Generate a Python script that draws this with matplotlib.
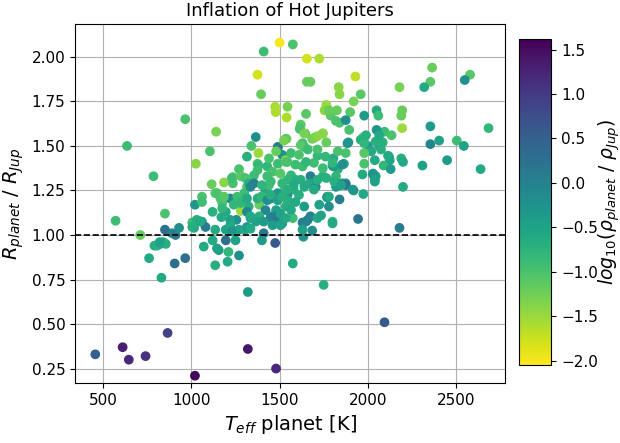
import numpy as np
import matplotlib
matplotlib.use("Agg")
import matplotlib.pyplot as plt

# (Teff [K], R/Rjup, log10 rho/rhoJup), by region

# sparse points, low Teff and dense small planets
sparse = [
    (455, 0.33, 0.5), (610, 0.37, 1.3), (645, 0.30, 1.2), (740, 0.32, 1.1),
    (865, 0.45, 0.9), (1020, 0.21, 1.6), (1320, 0.36, 1.4), (1480, 0.25, 1.2),
    (2095, 0.51, 0.6), (570, 1.08, -0.9), (635, 1.50, -0.9), (710, 1.00, -1.2),
    (760, 0.87, -0.6), (785, 1.33, -0.9), (790, 0.94, -0.7), (805, 0.94, -0.7),
    (825, 0.95, -0.6), (840, 0.96, -0.6), (855, 0.95, -0.7), (830, 0.76, -0.6),
    (850, 1.12, -1.0), (850, 1.03, 0.3), (890, 1.01, 0.0), (905, 0.84, 0.3),
    (910, 1.00, 0.1), (930, 1.04, -0.2), (965, 0.87, 0.3), (965, 1.65, -1.0),
    (1010, 1.06, -0.8), (1020, 1.17, -0.3), (1025, 1.40, -1.4), (1030, 1.08, -0.1),
    (1320, 0.68, -0.4), (1575, 0.84, -0.6), (1750, 0.72, -0.7), (2180, 1.04, 0.1),
    (820, 0.96, -0.5),
]

# hottest planets, right side
hot = [
    (2365, 1.94, -1.2), (2580, 1.90, -1.1), (2550, 1.87, -0.2), (2355, 1.86, -1.1),
    (2180, 1.83, -1.3), (2320, 1.83, -0.6), (2195, 1.70, -1.2), (2190, 1.67, -1.2),
    (2195, 1.60, -1.5), (2355, 1.61, -0.4), (2685, 1.60, -0.8), (2095, 1.58, -0.9),
    (2135, 1.56, -1.0), (2085, 1.52, -0.8), (2355, 1.51, 0.0), (2405, 1.53, -0.5),
    (2505, 1.53, -0.9), (2545, 1.50, -0.5), (2120, 1.44, -0.5), (2190, 1.43, -0.7),
    (2200, 1.41, -0.6), (2125, 1.42, -0.5), (2090, 1.39, -0.8), (2130, 1.37, -0.4),
    (2310, 1.39, -0.5), (2450, 1.42, -0.4), (2640, 1.37, -0.6), (2200, 1.27, -0.6),
]

# most inflated planets, upper part
inflated = [
    (1500, 2.08, -2.0), (1575, 2.07, -1.0), (1410, 2.03, -0.9), (1655, 1.99, -1.8),
    (1725, 1.99, -1.6), (1375, 1.90, -1.8), (1930, 1.89, -1.7), (1655, 1.86, -1.2),
    (1675, 1.86, -1.2), (1395, 1.79, -1.2), (1835, 1.83, -1.4), (1840, 1.79, -1.4),
    (1960, 1.79, -1.1), (1920, 1.75, -1.3), (1475, 1.72, -1.6), (1478, 1.69, -1.6),
    (1545, 1.72, -1.3), (1540, 1.66, -1.6), (1650, 1.68, -1.1), (1765, 1.73, -1.5),
    (1755, 1.70, -1.4), (1825, 1.70, -1.2), (1790, 1.67, -1.1), (1900, 1.69, -1.1),
    (1820, 1.64, -1.0), (1840, 1.63, -1.0), (1895, 1.59, -1.0), (1140, 1.58, -1.3),
    (1105, 1.47, -1.0), (1980, 1.67, -0.4), (2050, 1.70, -0.6), (2060, 1.67, -0.9),
    (1365, 1.55, -0.2), (1340, 1.50, -1.0), (1380, 1.46, -1.5), (1315, 1.44, -0.7),
    (1490, 1.49, -0.3), (1525, 1.44, -1.3), (1540, 1.54, -1.4), (1615, 1.60, -1.2),
    (1645, 1.57, -1.1), (1685, 1.54, -1.2), (1705, 1.55, -1.3), (1745, 1.57, -1.3),
    (1765, 1.52, -1.2), (1890, 1.52, -0.2), (1975, 1.55, -1.2), (2000, 1.50, -0.3),
    (2050, 1.59, -0.3), (1980, 1.40, -1.0), (2030, 1.34, -0.4), (2045, 1.33, -0.4),
    (2040, 1.30, -0.5), (2020, 1.47, -0.6), (2065, 1.50, -0.5), (2075, 1.52, -0.7),
    (1875, 1.46, -1.0), (1865, 1.40, -0.6), (1805, 1.43, -0.6), (1800, 1.39, -0.5),
    (1830, 1.37, -0.7), (1875, 1.29, -0.3), (1820, 1.33, -0.8), (1920, 1.25, -0.4),
    (1975, 1.23, -0.6), (1945, 1.09, 0.2), (1840, 1.20, 0.1), (1770, 1.21, -0.5),
    (1820, 1.27, -0.4), (1780, 1.70, -1.2), (1875, 1.645, -0.2), (1620, 1.62, -1.1),
    (1615, 1.595, -1.0), (1535, 1.54, -1.1), (1630, 1.515, -0.9), (1960, 1.535, -0.7),
]

# main cluster, 1000-2100 K
core = [
    (1005, 1.07, -0.9), (1040, 1.08, -0.4), (1015, 1.04, -0.6), (1060, 1.075, -0.5),
    (1080, 1.045, 0.1), (1120, 1.13, -0.7), (1115, 1.285, -1.2), (1135, 1.235, -1.1),
    (1185, 1.295, -1.4), (1165, 1.205, -1.0), (1175, 1.18, -1.0), (1195, 1.13, -0.6),
    (1170, 1.10, -0.6), (1220, 1.205, -0.1), (1235, 1.325, -1.1), (1235, 1.29, -1.0),
    (1270, 1.37, -1.0), (1280, 1.135, -1.5), (1240, 1.17, -0.8), (1255, 1.085, -0.2),
    (1230, 1.03, -0.3), (1270, 1.03, -0.5), (1305, 1.03, -0.6), (1195, 0.97, 0.3),
    (1250, 0.97, -0.5), (1070, 0.935, -0.6), (1120, 0.97, -0.6), (1155, 0.915, -0.4),
    (1135, 0.83, -0.7), (1210, 0.905, -0.8), (1205, 0.85, -0.6), (1270, 0.885, -0.2),
    (1315, 1.27, -1.1), (1300, 1.235, -0.9), (1325, 1.16, -0.7), (1335, 1.095, -0.4),
    (1315, 1.13, -0.1), (1355, 1.335, -0.9), (1375, 1.40, -1.0), (1385, 1.17, -1.2),
    (1395, 1.215, -1.0), (1430, 1.385, -0.8), (1430, 1.27, -0.3), (1420, 1.245, -0.6),
    (1450, 1.205, -0.2), (1420, 1.14, -0.1), (1450, 1.105, -0.2), (1470, 1.085, -0.2),
    (1410, 1.01, 0.2), (1480, 1.14, -0.5), (1490, 1.235, -0.3), (1490, 1.495, 0.1),
    (1515, 1.45, -0.3), (1535, 1.42, -1.5), (1525, 1.53, -1.3), (1515, 1.065, -0.3),
    (1475, 0.955, 0.6), (1565, 1.46, -0.9), (1565, 1.335, -0.8), (1590, 1.31, -0.7),
    (1545, 1.31, -0.8), (1580, 1.255, -0.7), (1610, 1.225, -0.7), (1545, 1.225, -0.2),
    (1545, 1.16, -0.5), (1575, 1.095, -0.9), (1640, 1.16, -0.4), (1630, 1.07, 0.1),
    (1660, 1.085, 0.1), (1675, 1.105, 0.0), (1635, 0.99, -0.3), (1685, 1.025, -0.2),
    (1715, 1.095, -0.6), (1630, 1.385, -0.9), (1640, 1.495, -0.9), (1675, 1.33, 0.1),
    (1670, 1.29, -0.6), (1705, 1.27, -0.2), (1715, 1.445, -0.8), (1745, 1.33, -0.7),
    (1760, 1.44, -0.8), (1770, 1.215, -0.2), (1780, 1.16, -0.2), (1800, 1.075, -0.8),
    (1805, 1.385, -0.4), (1855, 1.29, -0.2), (1875, 1.28, 0.2), (1830, 1.47, -1.0),
    (1885, 1.515, -0.3), (1915, 1.255, -0.3), (1980, 1.46, -1.1), (2030, 1.345, -0.3),
    (2040, 1.31, -0.5), (2040, 1.42, -0.6), (2115, 1.445, -0.6), (2045, 1.525, -0.7),
    (1440, 1.43, -1.0), (1490, 1.40, -0.9), (1535, 1.41, -1.1), (1480, 1.47, -1.2),
    (1380, 1.39, -0.8), (1375, 1.365, -0.9), (1460, 1.355, -1.0), (1430, 1.33, -0.9),
    (1450, 1.30, -0.9), (1440, 1.28, -0.9), (1505, 1.345, -1.1), (1515, 1.29, -0.8),
    (1535, 1.255, -0.8), (1230, 1.32, -0.9), (1280, 1.33, -1.1), (1305, 1.32, -1.0),
    (1325, 1.29, -0.7), (1335, 1.27, -0.1), (1355, 1.29, 0.0), (1400, 1.28, -0.8),
    (1145, 1.235, -1.0), (1185, 1.215, -1.1), (1260, 1.215, -0.9), (1280, 1.18, -0.8),
    (1315, 1.205, -0.6), (1375, 1.205, -0.7), (1400, 1.215, -0.8), (1430, 1.195, -0.2),
    (1450, 1.225, -0.7), (1490, 1.195, -0.5), (1515, 1.215, -0.7), (1545, 1.195, -0.7),
    (1060, 1.215, -1.0), (1060, 1.185, -0.9), (1175, 1.15, -0.8), (1220, 1.085, -0.5),
    (1335, 1.105, -0.6), (1385, 1.105, -0.7), (1450, 1.095, 0.0), (1480, 1.105, 0.1),
    (1505, 1.12, -0.5), (1535, 1.095, -0.6), (1535, 1.16, -0.7), (1030, 1.085, -0.7),
    (1050, 1.075, -0.6), (1005, 1.045, -0.7), (1135, 1.03, -0.6), (1195, 1.03, -0.5),
    (1220, 1.055, -0.6), (1315, 1.045, -0.4), (1365, 1.075, -0.5), (1410, 1.075, -0.4),
    (1460, 1.055, -0.4), (1505, 1.055, -0.5), (1230, 1.02, -0.3), (1335, 1.035, -0.6),
    (1145, 0.925, -0.5), (1400, 0.97, -0.4),
    (1640, 1.57, -1.3), (1695, 1.545, -1.3), (1745, 1.57, -1.4), (1715, 1.555, -1.4),
    (1620, 1.505, -1.1), (1610, 1.45, -1.0), (1660, 1.48, -0.9), (1715, 1.48, -1.0),
    (1800, 1.405, -0.8), (1855, 1.395, -0.2), (1745, 1.375, -0.9), (1695, 1.405, -0.9),
    (1650, 1.41, -0.8), (1590, 1.395, -0.9), (1545, 1.41, -1.0), (1715, 1.31, -0.7),
    (1765, 1.32, -0.7), (1810, 1.30, -0.7), (1850, 1.28, -0.5), (1620, 1.31, -0.7),
    (1580, 1.28, -0.6), (1640, 1.27, -0.6), (1695, 1.255, -0.6), (1780, 1.215, -0.6),
    (1725, 1.17, -0.5), (1735, 1.11, -0.5), (1650, 1.075, 0.0), (1800, 1.065, -0.6),
    (1630, 1.03, -0.5), (1970, 1.34, -0.6), (2075, 1.48, -0.7), (2065, 1.56, -0.6),
    (1980, 1.515, -0.8), (1990, 1.56, -0.7), (1545, 1.255, -0.7), (1590, 1.185, -0.6),
    (1565, 1.14, -0.6),
]

pts = np.array(sparse + hot + inflated + core)
teff, radius, logrho = pts[:, 0], pts[:, 1], pts[:, 2]

fig = plt.figure(figsize=(6.2, 4.43), dpi=100)
ax = fig.add_axes([0.121, 0.135, 0.694, 0.811])
cax = fig.add_axes([0.837, 0.176, 0.052, 0.736])

sc = ax.scatter(teff, radius, c=logrho, cmap='viridis_r', vmin=-2.05, vmax=1.62, s=36, zorder=3)
ax.axhline(1.0, color='black', ls='--', lw=1.2, zorder=4)

ax.set_xlim(340, 2780)
ax.set_ylim(0.168, 2.185)
ax.set_xticks([500, 1000, 1500, 2000, 2500])
ax.set_yticks([0.25, 0.5, 0.75, 1.0, 1.25, 1.5, 1.75, 2.0])
ax.grid(True, zorder=0)
ax.set_axisbelow(True)
ax.tick_params(labelsize=11)

ax.set_title('Inflation of Hot Jupiters', fontsize=13)
ax.set_xlabel('$T_{eff}$ planet [K]', fontsize=14)
ax.set_ylabel('$R_{planet}$ / $R_{Jup}$', fontsize=14)

cb = fig.colorbar(sc, cax=cax)
cb.ax.tick_params(labelsize=11)
cb.set_label(r'$log_{10}(\rho_{planet}$ / $\rho_{Jup})$', fontsize=13.5, labelpad=-1)

fig.savefig('out.png', dpi=100)
